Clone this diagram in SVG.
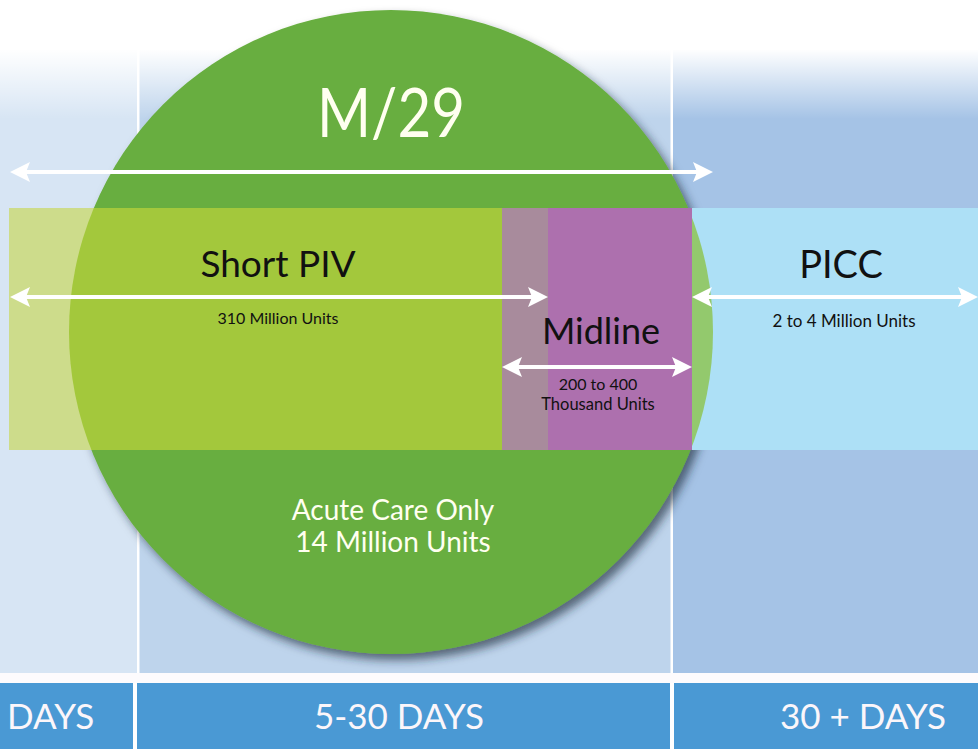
<svg xmlns="http://www.w3.org/2000/svg" width="978" height="749" viewBox="0 0 978 749">
<style>
.t{font-family:Lato,"Open Sans","Liberation Sans",sans-serif;}
.blk{fill:#111;}
.wht{fill:#fffff0;}
.arr{stroke:#fff;stroke-width:4;fill:none;marker-start:url(#ah);marker-end:url(#ah);}
.bar{fill:#4a99d4;}
</style>
<defs>
<linearGradient id="fade" x1="0" y1="0" x2="0" y2="1">
<stop offset="0" stop-color="#fff" stop-opacity="1"/>
<stop offset="1" stop-color="#fff" stop-opacity="0"/>
</linearGradient>
<filter id="sh" x="-10%" y="-10%" width="125%" height="125%">
<feDropShadow dx="5" dy="6" stdDeviation="5" flood-color="#1d2a3a" flood-opacity="0.65"/>
</filter>
<clipPath id="circ"><circle cx="391" cy="332" r="322"/></clipPath>
<marker id="ah" viewBox="0 0 10 10" refX="8" refY="5" markerWidth="5" markerHeight="5" orient="auto-start-reverse" markerUnits="strokeWidth">
<path d="M0,0 L10,5 L0,10 L2,5 Z" fill="#fff"/>
</marker>
</defs>

<g id="background">
<rect x="0" y="0" width="978" height="749" fill="#fff"/>
<rect x="0" y="40" width="137" height="635" fill="#d7e5f4"/>
<rect x="139" y="40" width="532" height="635" fill="#bed4ec"/>
<rect x="673" y="40" width="305" height="635" fill="#a5c3e6"/>
<rect x="0" y="0" width="978" height="50" fill="#fff"/>
<rect x="0" y="49" width="978" height="70" fill="url(#fade)"/>
<rect x="137" y="50" width="2.5" height="625" fill="#fff"/>
<rect x="670.5" y="50" width="2.5" height="625" fill="#fff"/>
<rect x="0" y="673" width="978" height="10" fill="#fdfbfd"/>
<rect class="bar" x="0" y="683" width="978" height="66"/>
<rect x="133" y="683" width="4" height="66" fill="#fff"/>
<rect x="670" y="683" width="4" height="66" fill="#fff"/>
</g>

<g id="m29">
<circle cx="391" cy="332" r="322" fill="#67ae3f" filter="url(#sh)"/>
<text class="t wht" x="391" y="137" font-size="68" text-anchor="middle" textLength="148" lengthAdjust="spacingAndGlyphs">M/29</text>
<text class="t wht" x="393" y="520" font-size="28" text-anchor="middle">Acute Care Only</text>
<text class="t wht" x="393" y="552" font-size="28" text-anchor="middle">14 Million Units</text>
</g>

<g id="short-piv">
<rect x="9" y="208" width="493" height="242" fill="#cddc8b"/>
<rect x="9" y="208" width="493" height="242" fill="#a3c83c" clip-path="url(#circ)"/>
<text class="t blk" x="278" y="277" font-size="37" text-anchor="middle">Short PIV</text>
<text class="t blk" x="278" y="324" font-size="16" text-anchor="middle">310 Million Units</text>
</g>

<g id="midline">
<rect x="502" y="208" width="46" height="242" fill="#a88b9c"/>
<rect x="548" y="208" width="144" height="242" fill="#ad70ae"/>
<text class="t blk" x="601" y="344" font-size="36" text-anchor="middle">Midline</text>
<text class="t blk" x="598" y="390" font-size="16" text-anchor="middle">200 to 400</text>
<text class="t blk" x="598" y="410" font-size="16.5" text-anchor="middle">Thousand Units</text>
</g>

<g id="picc">
<rect x="692" y="208" width="286" height="242" fill="#ade0f6"/>
<rect x="692" y="208" width="30" height="242" fill="#93c96d" clip-path="url(#circ)"/>
<text class="t blk" x="841" y="278" font-size="38" text-anchor="middle">PICC</text>
<text class="t blk" x="844" y="327" font-size="17" text-anchor="middle">2 to 4 Million Units</text>
</g>

<g id="timeline">
<text class="t" fill="#fbf6fa" x="7" y="729" font-size="35">DAYS</text>
<text class="t" fill="#fbf6fa" x="399" y="729" font-size="35" text-anchor="middle">5-30 DAYS</text>
<text class="t" fill="#fbf6fa" x="863" y="729" font-size="35" text-anchor="middle">30 + DAYS</text>
</g>

<g id="connectors">
<line class="arr" x1="14" y1="172" x2="709" y2="172"/>
<line class="arr" x1="14" y1="297" x2="544" y2="297"/>
<line class="arr" x1="506" y1="367" x2="688" y2="367"/>
<line class="arr" x1="696" y1="297" x2="974" y2="297"/>
</g>
</svg>
